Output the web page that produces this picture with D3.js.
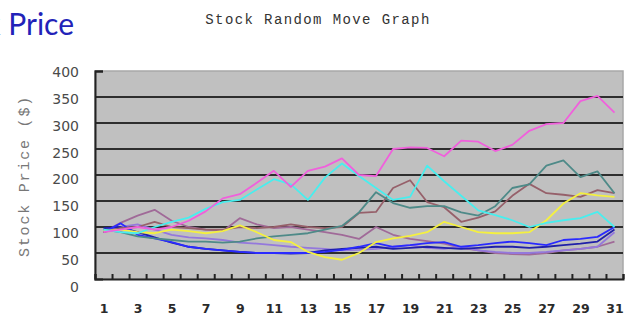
<!DOCTYPE html>
<html>
<head>
<meta charset="utf-8">
<script src="https://cdn.jsdelivr.net/npm/d3@7"></script>
<style>
  body { margin: 0; background: #fff; }
</style>
</head>
<body>
<div id="chart"></div>
<script>
const days = [1, 2, 3, 4, 5, 6, 7, 8, 9, 10, 11, 12, 13, 14, 15, 16, 17, 18, 19, 20, 21, 22, 23, 24, 25, 26, 27, 28, 29, 30, 31];
const dayLabels = [1, 3, 5, 7, 9, 11, 13, 15, 17, 19, 21, 23, 25, 27, 29, 31];
const priceTicks = [0, 50, 100, 150, 200, 250, 300, 350, 400];

const mauve = [90, 108, 122, 133, 112, 100, 95, 92, 117, 105, 98, 100, 95, 90, 85, 77, 100, 85, 77, 73, 68, 60, 55, 50, 48, 47, 50, 55, 58, 62, 72];
const purple = [95, 100, 105, 95, 85, 80, 78, 75, 70, 68, 65, 62, 60, 58, 55, 56, 58, 62, 65, 60, 58, 62, 55, 52, 50, 50, 52, 55, 58, 62, 90];
const navy = [98, 100, 90, 80, 70, 62, 58, 55, 52, 50, 50, 49, 50, 55, 58, 60, 62, 58, 60, 62, 60, 58, 60, 62, 62, 60, 62, 65, 68, 72, 95];
const blue = [90, 107, 85, 78, 71, 62, 58, 55, 52, 50, 50, 50, 50, 52, 56, 62, 69, 62, 65, 69, 71, 62, 65, 69, 72, 69, 65, 75, 77, 81, 100];
const brown = [90, 98, 100, 110, 100, 98, 95, 95, 100, 98, 100, 105, 100, 98, 100, 127, 129, 175, 190, 148, 138, 110, 118, 130, 160, 183, 165, 162, 158, 171, 165];
const teal = [95, 90, 82, 78, 75, 72, 72, 70, 72, 78, 82, 85, 88, 95, 102, 128, 167, 146, 137, 140, 140, 128, 122, 140, 175, 182, 218, 228, 196, 207, 165];
const yellow = [92, 95, 90, 88, 95, 92, 88, 92, 103, 90, 75, 71, 52, 42, 37, 50, 71, 78, 83, 90, 110, 100, 90, 88, 88, 90, 113, 145, 165, 161, 158];
const cyan = [95, 90, 88, 100, 110, 118, 135, 148, 152, 172, 192, 182, 152, 195, 222, 198, 175, 152, 158, 218, 188, 160, 132, 123, 113, 100, 108, 113, 117, 129, 100];
const pink = [90, 95, 100, 95, 100, 112, 130, 155, 163, 185, 208, 177, 208, 216, 232, 200, 198, 250, 253, 252, 236, 266, 264, 246, 258, 285, 298, 300, 342, 352, 320];

const series = [mauve, purple, navy, blue, brown, teal, yellow, cyan, pink];
const colors = ['#a06a98', '#9478dc', '#2020a8', '#2a2aff', '#96606a', '#4e8a88', '#f4f040', '#48eeee', '#f060dc'];

const width = 631;
const height = 318;
const margin = {top: 71, bottom: 39, left: 95, right: 8};
const plotW = width - margin.left - margin.right;
const plotH = height - margin.top - margin.bottom;

const x = d3.scaleLinear()
    .domain([0.5, days.length + 0.5])
    .range([0, plotW]);

const y = d3.scaleLinear()
    .domain([0, 400])
    .range([plotH, 0]);

// labels sit a little lower than the grid toward the bottom
const yLabel = d3.scaleLinear()
    .domain([0, 400])
    .range([plotH + 8, 1]);

const svg = d3.select('#chart')
    .append('svg')
    .attr('width', width)
    .attr('height', height);

svg.append('text')
    .attr('x', 74)
    .attr('y', 35)
    .attr('text-anchor', 'end')
    .attr('fill', '#2222b8')
    .style('font-family', 'Lato, "Open Sans", sans-serif')
    .style('font-size', '30px')
    .text('Stock Price');

svg.append('text')
    .attr('x', 318)
    .attr('y', 24)
    .attr('text-anchor', 'middle')
    .attr('fill', '#333')
    .style('font-family', '"Liberation Mono", monospace')
    .style('font-size', '14px')
    .style('letter-spacing', '1.4px')
    .text('Stock Random Move Graph');

svg.append('text')
    .attr('transform', 'translate(29,176) rotate(-90)')
    .attr('text-anchor', 'middle')
    .attr('fill', '#777')
    .style('font-family', '"Liberation Mono", monospace')
    .style('font-size', '15px')
    .style('letter-spacing', '1.8px')
    .text('Stock Price ($)');

const g = svg.append('g')
    .attr('transform', `translate(${margin.left},${margin.top})`);

g.append('rect')
    .attr('width', plotW)
    .attr('height', plotH)
    .attr('fill', '#c0c0c0')
    .attr('stroke', '#a8a8a8')
    .attr('stroke-width', 1.5);

g.append('g')
    .attr('class', 'grid')
    .selectAll('line')
    .data(priceTicks.filter(d => d > 0 && d < 400))
    .join('line')
    .attr('x1', 0)
    .attr('x2', plotW)
    .attr('y1', d => y(d))
    .attr('y2', d => y(d))
    .attr('stroke', '#2e2e2e')
    .attr('stroke-width', 2);

const line = d3.line()
    .x((d, i) => x(days[i]))
    .y(d => y(d));

g.selectAll('.series')
    .data(series)
    .join('path')
    .attr('class', 'series')
    .attr('fill', 'none')
    .attr('stroke', (d, i) => colors[i])
    .attr('stroke-width', 1.8)
    .attr('stroke-linejoin', 'round')
    .attr('d', line);

// tick marks between days, pointing into the plot
const xTicks = d3.axisBottom(x)
    .tickValues(d3.range(0.5, days.length + 1, 1))
    .tickSize(-5)
    .tickFormat('');

g.append('g')
    .attr('class', 'x axis')
    .attr('transform', `translate(0,${plotH})`)
    .call(xTicks)
    .call(s => s.select('.domain').attr('stroke', '#222').attr('stroke-width', 2))
    .call(s => s.selectAll('.tick line').attr('stroke', '#222').attr('stroke-width', 2));

const xLabels = d3.axisBottom(x)
    .tickValues(dayLabels)
    .tickSize(0)
    .tickPadding(25);

g.append('g')
    .attr('transform', `translate(0,${plotH})`)
    .call(xLabels)
    .call(s => s.select('.domain').remove())
    .call(s => s.selectAll('text')
        .attr('fill', '#2a2a2a')
        .style('font-family', '"DejaVu Sans", sans-serif')
        .style('font-weight', 'bold')
        .style('font-size', '12.5px'));

const yAxis = d3.axisLeft(y)
    .tickValues([400])
    .tickSize(-8)
    .tickFormat('');

g.append('g')
    .attr('class', 'y axis')
    .call(yAxis)
    .call(s => s.select('.domain').attr('stroke', '#222').attr('stroke-width', 2))
    .call(s => s.selectAll('.tick line').attr('stroke', '#222').attr('stroke-width', 2));

const yLabels = d3.axisLeft(yLabel)
    .tickValues(priceTicks)
    .tickSize(0)
    .tickPadding(16);

g.append('g')
    .call(yLabels)
    .call(s => s.select('.domain').remove())
    .call(s => s.selectAll('text')
        .attr('fill', '#4a4a4a')
        .style('font-family', '"DejaVu Sans", sans-serif')
        .style('font-size', '14px'));
</script>
</body>
</html>
